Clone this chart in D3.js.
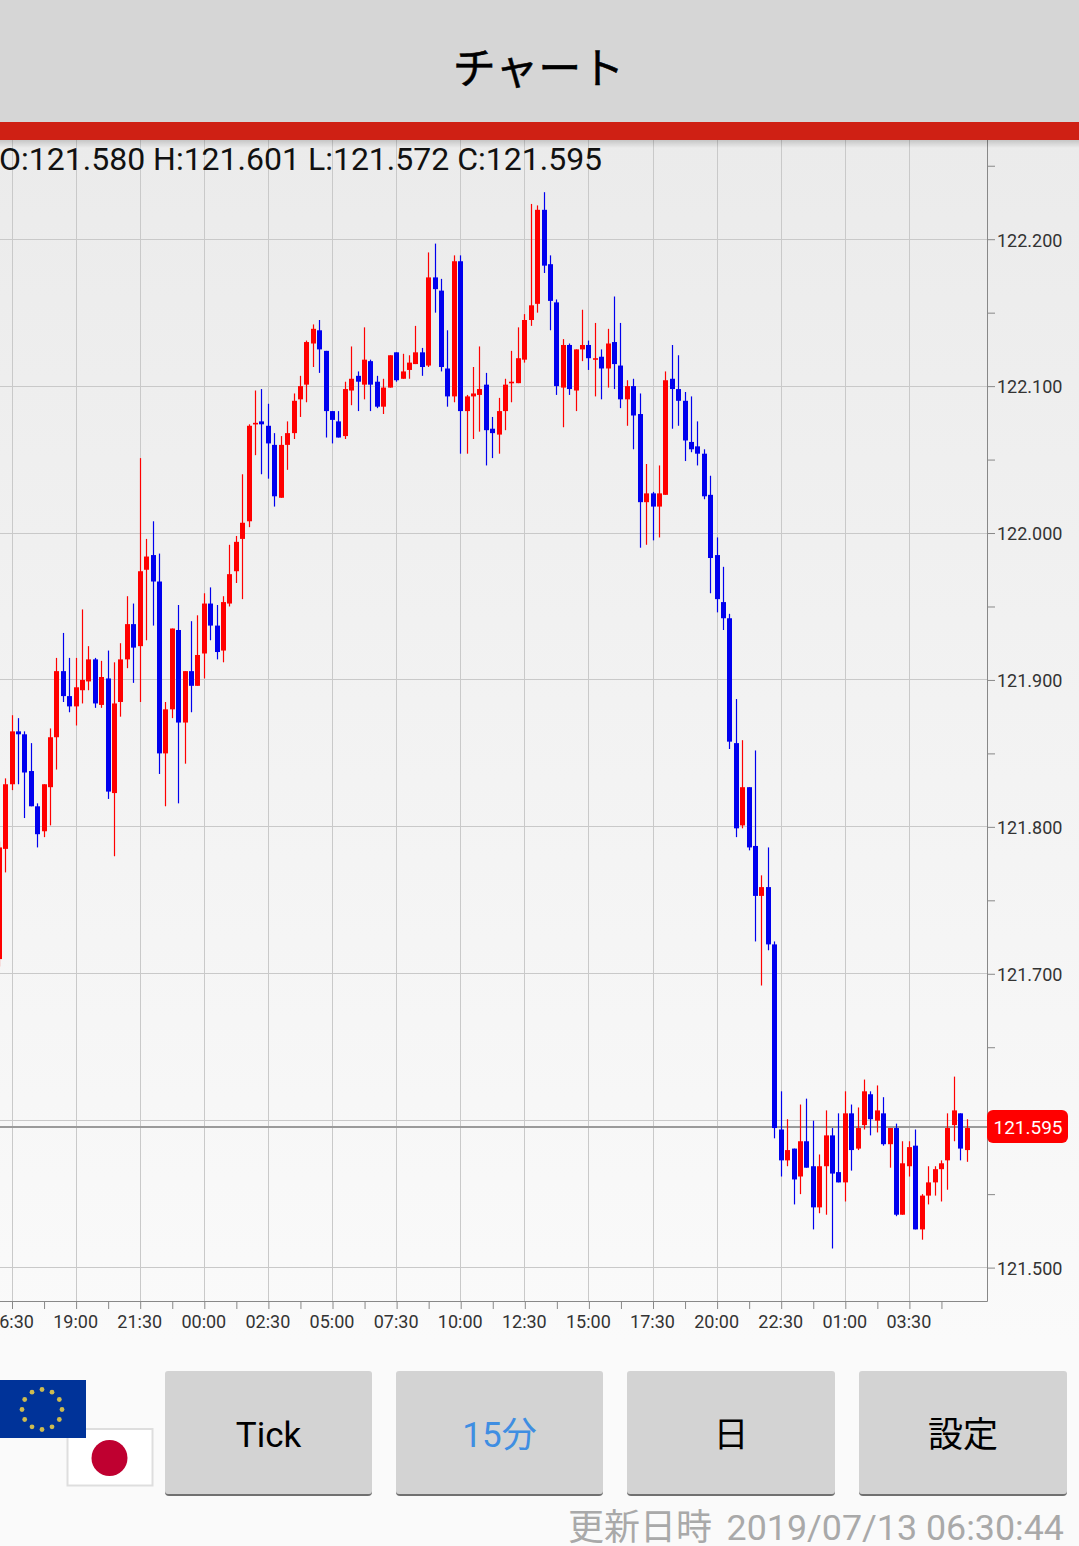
<!DOCTYPE html>
<html><head><meta charset="utf-8">
<script src="https://cdnjs.cloudflare.com/ajax/libs/d3/7.8.5/d3.min.js"></script>
<style>html,body{margin:0;padding:0;background:#fafafa;overflow:hidden}svg{display:block}text{font-family:Roboto,"Noto Sans CJK JP",sans-serif}</style>
</head><body><div id="c"></div>
<script>
const highs=[121.790,121.833,121.876,121.874,121.865,121.857,121.816,121.829,121.867,121.915,
121.932,121.915,121.915,121.948,121.923,121.915,121.913,121.920,121.912,121.925,
121.957,121.952,122.051,121.996,122.008,121.986,121.885,121.935,121.951,121.906,
121.940,121.944,121.959,121.963,121.951,121.957,121.992,121.998,122.040,122.074,
122.097,122.098,122.088,122.068,122.066,122.076,122.095,122.107,122.131,122.142,
122.145,122.124,122.083,122.083,122.103,122.127,122.110,122.140,122.118,122.107,
122.105,122.121,122.123,122.122,122.121,122.141,122.126,122.191,122.197,122.173,
122.138,122.189,122.189,122.094,122.113,122.127,122.109,122.079,122.092,122.105,
122.124,122.140,122.149,122.224,122.223,122.232,122.189,122.159,122.132,122.129,
122.125,122.152,122.131,122.143,122.125,122.139,122.161,122.143,122.104,122.105,
122.095,122.047,122.028,122.046,122.110,122.128,122.121,122.096,122.093,122.076,
122.057,122.039,121.997,121.977,121.945,121.887,121.859,121.827,121.852,121.767,
121.786,121.722,121.620,121.601,121.581,121.611,121.615,121.600,121.577,121.607,
121.595,121.605,121.620,121.611,121.609,121.628,121.620,121.624,121.616,121.595,
121.598,121.586,121.586,121.594,121.550,121.569,121.569,121.573,121.605,121.630,
121.605,121.601];
const opens=[121.710,121.785,121.829,121.865,121.863,121.838,121.814,121.797,121.827,121.861,
121.906,121.889,121.882,121.893,121.899,121.914,121.883,121.901,121.823,121.885,
121.914,121.938,121.923,121.975,121.985,121.967,121.850,121.880,121.934,121.871,
121.906,121.896,121.918,121.952,121.937,121.920,121.952,121.974,121.996,122.008,
122.075,122.076,122.073,122.060,122.024,122.060,122.068,122.091,122.101,122.129,
122.138,122.124,122.083,122.076,122.066,122.097,122.107,122.101,122.117,122.103,
122.086,122.099,122.123,122.105,122.111,122.115,122.123,122.114,122.174,122.165,
122.112,122.093,122.185,122.083,122.093,122.094,122.101,122.071,122.067,122.083,
122.103,122.102,122.118,122.145,122.156,122.220,122.183,122.157,122.099,122.128,
122.097,122.125,122.128,122.118,122.120,122.112,122.130,122.114,122.091,122.100,
122.081,122.021,122.027,122.018,122.026,122.105,122.098,122.090,122.062,122.059,
122.054,122.026,121.985,121.953,121.942,121.857,121.801,121.827,121.787,121.753,
121.759,121.720,121.594,121.573,121.581,121.562,121.586,121.569,121.541,121.569,
121.590,121.565,121.558,121.605,121.581,121.597,121.618,121.600,121.605,121.584,
121.595,121.536,121.569,121.583,121.526,121.549,121.558,121.567,121.573,121.597,
121.605,121.580];
const closes=[121.786,121.829,121.865,121.863,121.837,121.814,121.795,121.829,121.861,121.906,
121.889,121.882,121.895,121.900,121.914,121.884,121.902,121.824,121.884,121.914,
121.938,121.922,121.974,121.984,121.967,121.850,121.880,121.935,121.871,121.906,
121.896,121.917,121.952,121.937,121.919,121.953,121.972,121.994,122.007,122.073,
122.075,122.074,122.061,122.025,122.060,122.068,122.090,122.100,122.130,122.139,
122.125,122.083,122.077,122.065,122.098,122.105,122.103,122.118,122.101,122.086,
122.099,122.121,122.104,122.110,122.116,122.123,122.113,122.174,122.166,122.113,
122.093,122.185,122.083,122.093,122.095,122.098,122.070,122.068,122.083,122.101,
122.103,122.119,122.145,122.155,122.220,122.182,122.158,122.100,122.128,122.098,
122.125,122.128,122.119,122.119,122.112,122.129,122.115,122.091,122.100,122.080,
122.021,122.027,122.018,122.027,122.104,122.098,122.090,122.063,122.057,122.054,
122.025,121.983,121.955,121.942,121.858,121.799,121.827,121.786,121.753,121.759,
121.720,121.595,121.573,121.580,121.560,121.586,121.568,121.541,121.569,121.590,
121.564,121.558,121.605,121.580,121.595,121.620,121.601,121.607,121.584,121.595,
121.536,121.571,121.582,121.526,121.549,121.558,121.567,121.571,121.595,121.607,
121.581,121.595];
const lows=[121.705,121.769,121.825,121.829,121.806,121.814,121.786,121.793,121.801,121.839,
121.885,121.878,121.869,121.884,121.893,121.881,121.881,121.819,121.780,121.875,
121.908,121.898,121.885,121.927,121.937,121.836,121.814,121.874,121.816,121.843,
121.878,121.896,121.901,121.927,121.914,121.912,121.950,121.966,121.955,122.004,
122.053,122.040,122.037,122.018,122.024,122.043,122.064,122.079,122.089,122.113,
122.109,122.065,122.061,122.065,122.064,122.087,122.083,122.091,122.083,122.085,
122.081,122.099,122.103,122.105,122.105,122.115,122.107,122.113,122.150,122.110,
122.086,122.089,122.054,122.054,122.064,122.069,122.046,122.051,122.054,122.070,
122.089,122.102,122.116,122.141,122.150,122.177,122.138,122.094,122.072,122.094,
122.083,122.117,122.111,122.093,122.091,122.099,122.098,122.085,122.073,122.057,
121.990,121.992,121.995,121.997,122.026,122.071,122.073,122.049,122.055,122.046,
122.023,121.959,121.946,121.934,121.853,121.793,121.799,121.784,121.722,121.692,
121.716,121.588,121.562,121.569,121.543,121.550,121.568,121.526,121.537,121.536,
121.513,121.558,121.545,121.566,121.580,121.594,121.590,121.592,121.583,121.568,
121.535,121.536,121.562,121.526,121.519,121.543,121.549,121.545,121.553,121.586,
121.573,121.572];
const timeLabels=["16:30","19:00","21:30","00:00","02:30","05:00","07:30","10:00","12:30","15:00","17:30","20:00","22:30","01:00","03:30"];
const priceTicks=[121.5,121.55,121.6,121.65,121.7,121.75,121.8,121.85,121.9,121.95,122.0,122.05,122.1,122.15,122.2,122.25];
const priceGrid=[121.5,121.6,121.7,121.8,121.9,122.0,122.1,122.2];
const priceLabelled=[121.5,121.7,121.8,121.9,122.0,122.1,122.2];
const lastPrice=121.595;
const ohlcText="O:121.580 H:121.601 L:121.572 C:121.595";
const buttonLabels=["Tick","15分","日","設定"];
const updatedLabel="更新日時";
const updatedValue="2019/07/13 06:30:44";
const title="チャート";

const W=1079,H=1546,AX=987,TOP=140,BOT=1301;
const svg=d3.select("#c").append("svg").attr("width",W).attr("height",H);
const defs=svg.append("defs");
const g1=defs.append("linearGradient").attr("id","bg").attr("x1",0).attr("x2",0).attr("y1",0).attr("y2",1);
g1.append("stop").attr("offset",0).attr("stop-color","#ebebeb");
g1.append("stop").attr("offset",1).attr("stop-color","#fafafa");
const g2=defs.append("linearGradient").attr("id","sh").attr("x1",0).attr("x2",0).attr("y1",0).attr("y2",1);
g2.append("stop").attr("offset",0).attr("stop-color","#000").attr("stop-opacity",.16);
g2.append("stop").attr("offset",1).attr("stop-color","#000").attr("stop-opacity",0);

svg.append("rect").attr("width",W).attr("height",H).attr("fill","#fafafa");
svg.append("rect").attr("y",TOP).attr("width",W).attr("height",BOT-TOP+40).attr("fill","url(#bg)");

const y=d3.scaleLinear().domain([121.5,122.2]).range([1267.6,239.2]);
const x=d3.scaleLinear().domain([0,151]).range([-0.82,967.09]);
const px=v=>Math.floor(v)+.5;
const tickIdx=d3.range(2,151,5);
const labelIdx=d3.range(2,151,10);

// grid
const grid=svg.append("g").attr("stroke","#c9c9c9").attr("stroke-width",1);
grid.selectAll("line.v").data(labelIdx).join("line").attr("x1",d=>px(x(d))).attr("x2",d=>px(x(d))).attr("y1",TOP).attr("y2",BOT);
grid.selectAll("line.h").data(priceGrid).join("line").attr("x1",0).attr("x2",AX).attr("y1",d=>px(y(d))).attr("y2",d=>px(y(d)));

// price line behind candles
svg.append("line").attr("x1",0).attr("x2",AX).attr("y1",y(lastPrice)-1).attr("y2",y(lastPrice)-1).attr("stroke","#9a9a9a").attr("stroke-width",2);

// candles
const color=i=>closes[i]>=opens[i]?"#ff0000":"#0000ee";
const idx=d3.range(highs.length);
const candles=svg.append("g");
candles.selectAll("line").data(idx).join("line")
 .attr("x1",i=>px(x(i))).attr("x2",i=>px(x(i))).attr("y1",i=>y(highs[i])).attr("y2",i=>y(lows[i]))
 .attr("stroke",color).attr("stroke-width",1.2);
candles.selectAll("rect").data(idx).join("rect")
 .attr("x",i=>px(x(i))-2.5).attr("width",5)
 .attr("y",i=>y(Math.max(opens[i],closes[i])))
 .attr("height",i=>Math.max(1.6,Math.abs(y(opens[i])-y(closes[i]))))
 .attr("fill",color);

// axes
const yAxis=d3.axisRight(y).tickValues(priceTicks).tickSize(8).tickPadding(2)
 .tickFormat(d=>priceLabelled.some(p=>Math.abs(p-d)<1e-6)?d.toFixed(3):"");
const ya=svg.append("g").attr("transform",`translate(${AX},0)`).call(yAxis);
ya.select(".domain").remove();
ya.selectAll("line").attr("stroke","#888");
ya.selectAll("text").attr("font-size",18).attr("fill","#333").attr("dy","0.38em");
const xAxis=d3.axisBottom(x).tickValues(tickIdx).tickSize(8).tickPadding(6)
 .tickFormat(d=>{const k=labelIdx.indexOf(d);return k>=0?timeLabels[k]:"";});
const xa=svg.append("g").attr("transform",`translate(0,${BOT})`).call(xAxis);
xa.select(".domain").remove();
xa.selectAll("line").attr("stroke","#888");
xa.selectAll("text").attr("font-size",18).attr("fill","#333").attr("dx",-1);
svg.append("path").attr("d",`M0,${BOT}.5H${AX}.5V${TOP}`).attr("fill","none").attr("stroke","#888");

// header
svg.append("rect").attr("width",W).attr("height",122).attr("fill","#d6d6d6");
svg.append("rect").attr("y",122).attr("width",W).attr("height",18).attr("fill","#cf2014");
svg.append("rect").attr("y",140).attr("width",W).attr("height",8).attr("fill","url(#sh)");
svg.append("text").attr("x",538.5).attr("y",84).attr("text-anchor","middle").attr("font-size",43).attr("fill","#000").attr("stroke","#000").attr("stroke-width",.5).text(title);
svg.append("text").attr("x",-1).attr("y",170).attr("font-size",32).attr("fill","#111").text(ohlcText);

// last-price badge
svg.append("rect").attr("x",987).attr("y",1110).attr("width",81).attr("height",33).attr("rx",6).attr("fill","#ff0000");
svg.append("text").attr("x",1028).attr("y",1134).attr("text-anchor","middle").attr("font-size",19).attr("fill","#fff").text(lastPrice.toFixed(3));

// flags
svg.append("rect").attr("x",67.5).attr("y",1429).attr("width",85).attr("height",56.5).attr("fill","#fff").attr("stroke","#dedede").attr("stroke-width",2);
svg.append("circle").attr("cx",109.5).attr("cy",1458).attr("r",18).attr("fill","#bf0030");
svg.append("rect").attr("x",0).attr("y",1380).attr("width",86).attr("height",58).attr("fill","#003399");
svg.selectAll("circle.star").data(d3.range(12)).join("circle").attr("class","star")
 .attr("cx",i=>42+20*Math.sin(i*Math.PI/6)).attr("cy",i=>1409.5-20*Math.cos(i*Math.PI/6)).attr("r",2.4).attr("fill","#cdbb50");

// buttons
const btnX=[165,396,627,859],btnW=[207,207,208,208];
const btn=svg.selectAll("g.btn").data(buttonLabels).join("g").attr("class","btn");
btn.append("rect").attr("x",(d,i)=>btnX[i]).attr("y",1373).attr("width",(d,i)=>btnW[i]).attr("height",123).attr("rx",4).attr("fill","#707070");
btn.append("rect").attr("x",(d,i)=>btnX[i]).attr("y",1371).attr("width",(d,i)=>btnW[i]).attr("height",123).attr("rx",3).attr("fill","#d3d3d3");
btn.append("text").attr("x",(d,i)=>btnX[i]+btnW[i]/2).attr("y",1447).attr("text-anchor","middle").attr("font-size",35)
 .attr("fill",(d,i)=>i===1?"#3f8ee2":"#000").text(d=>d);

// footer
svg.append("text").attr("x",568).attr("y",1540).attr("font-size",36).attr("fill","#a9a9a9").text(updatedLabel);
svg.append("text").attr("x",1064).attr("y",1540).attr("text-anchor","end").attr("font-size",35.8).attr("fill","#a9a9a9").text(updatedValue);
</script></body></html>
